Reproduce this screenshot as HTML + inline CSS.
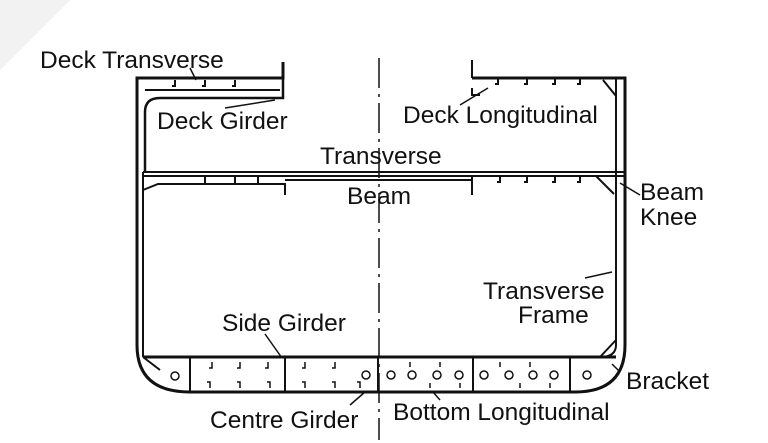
<!DOCTYPE html>
<html><head><style>
html,body{margin:0;padding:0;background:#fff;}
svg{display:block}
text{font-family:"Liberation Sans",sans-serif;font-size:24.5px;fill:#111}
</style></head><body>
<svg width="768" height="443" viewBox="0 0 768 443" xmlns="http://www.w3.org/2000/svg">
<polygon points="0,0 70,0 0,70" fill="#f2f2f2"/>
<g stroke="#111" fill="none" stroke-width="2">
<line x1="379" y1="58" x2="379" y2="440" stroke-dasharray="30,6,3,6" stroke-width="1.5"/>
<path d="M283,62 V78 H137 V345 Q137,392 190,392 H575 Q625,392 625,345 V78 H472" stroke-width="3"/>
<path d="M472,60 V78 M472,88 V95 h8" />
<path d="M283,78 V98 H160 Q145,98 145,112 V172" stroke-width="2.5"/>
<path d="M143,172 V357"/>
<path d="M616,78 V345 Q616,357 600,357"/>
<path d="M145,90 H280 M603,80 L616,96"/>
<path d="M143,172 H625 M143,176 H625" stroke-width="2"/>
<path d="M143,190 L158,184 H285 V195 M285,180 H472 M472,176 V195 M596,176 L614,194"/>
<path d="M143,357 H616" stroke-width="3"/>
<path d="M190,357 V392 M285,357 V392 M378,357 V392 M473,357 V392 M570,357 V392"/>
<path d="M143,357 L160,370 M600,357 L616,340"/>
<path d="M498,78 v6 h-3 M527,78 v6 h-3 M555,78 v6 h-3 M580,78 v6 h-3 M500,176 v6 h-3 M527,176 v6 h-3 M555,176 v6 h-3 M580,176 v6 h-3 M205,176 v8 h-3 M235,176 v8 h-3 M258,176 v8 h-3 M175,80 v6 h-3 M205,80 v6 h-3 M235,80 v6 h-3"/>
<path d="M212,362 v6 h-3 M240,362 v6 h-3 M268,362 v6 h-3 M305,362 v6 h-3 M335,362 v6 h-3 M210,388 v-6 h-3 M240,388 v-6 h-3 M270,388 v-6 h-3 M305,388 v-6 h-3 M335,388 v-6 h-3 M360,388 v-6 h-3 M410,362 v5 M440,362 v5 M430,388 v-5 M460,388 v-5 M500,362 v5 M530,362 v5 M520,388 v-5 M550,388 v-5" stroke-width="1.5"/>
<g stroke-width="1.5">
<circle cx="175" cy="376" r="4"/><circle cx="366" cy="375" r="4"/>
<circle cx="391" cy="375" r="4"/><circle cx="412" cy="375" r="4"/><circle cx="437" cy="375" r="4"/><circle cx="459" cy="375" r="4"/>
<circle cx="484" cy="375" r="4"/><circle cx="509" cy="375" r="4"/><circle cx="533" cy="375" r="4"/><circle cx="554" cy="375" r="4"/><circle cx="587" cy="375" r="4"/>
</g>
<g stroke-width="1.5">
<path d="M190,68 L196,80 M275,100 L225,108 M488,88 L460,105 M640,195 L620,183 M585,278 L612,272 M620,372 L612,364 M265,334 L282,358 M365,392 L350,405 M433,392 L440,400"/>
</g>
</g>
<text x="40" y="68">Deck Transverse</text>
<text x="157" y="129">Deck Girder</text>
<text x="403" y="123">Deck Longitudinal</text>
<text x="320" y="164">Transverse</text>
<text x="347" y="204">Beam</text>
<text x="640" y="200">Beam</text>
<text x="640" y="225">Knee</text>
<text x="483" y="299">Transverse</text>
<text x="518" y="323">Frame</text>
<text x="222" y="331">Side Girder</text>
<text x="626" y="389">Bracket</text>
<text x="210" y="428">Centre Girder</text>
<text x="393" y="420">Bottom Longitudinal</text>
</svg>
</body></html>
